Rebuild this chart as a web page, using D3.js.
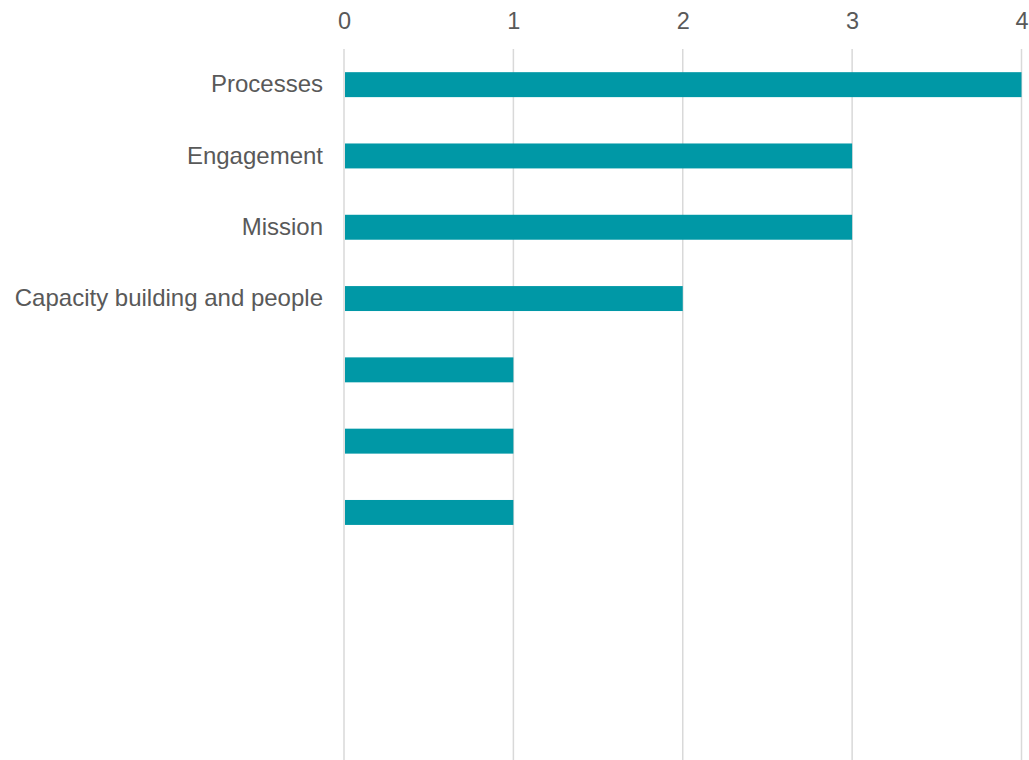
<!DOCTYPE html>
<html>
<head>
<meta charset="utf-8">
<script src="https://cdn.jsdelivr.net/npm/d3@7"></script>
<style>
  body { margin: 0; background: #fff; }
  text { font-family: "Liberation Sans", Arial, sans-serif; fill: #595959; }
</style>
</head>
<body>
<div id="chart"></div>
<script>
// rows, top to bottom (the last ones have no label in the original)
var categories = ["Processes", "Engagement", "Mission", "Capacity building and people", "", "", "", "", "", ""];
var values = [4, 3, 3, 2, 1, 1, 1, null, null, null];
var xTicks = [0, 1, 2, 3, 4];

var W = 1029, H = 760;
var margin = { top: 49, right: 7.5, bottom: -2, left: 344 };
var width = W - margin.left - margin.right;
var height = H - margin.top - margin.bottom;

var svg = d3.select("#chart")
  .append("svg")
  .attr("width", W)
  .attr("height", H)
  .append("g")
  .attr("transform", "translate(" + margin.left + "," + margin.top + ")");

var x = d3.scaleLinear().domain([0, 4]).range([0, width]);
var y = d3.scaleBand()
  .domain(d3.range(categories.length))
  .range([0, height])
  .paddingInner(0.65)
  .paddingOuter(0.325);

// vertical gridlines
svg.append("g")
  .selectAll("line")
  .data(xTicks)
  .join("line")
  .attr("x1", d => x(d))
  .attr("x2", d => x(d))
  .attr("y1", 0)
  .attr("y2", height)
  .attr("stroke", "#d9d9d9")
  .attr("stroke-width", 1.5);

// top axis labels
var xAxis = svg.append("g")
  .attr("transform", "translate(0,-20)")
  .call(d3.axisTop(x).tickValues(xTicks).tickFormat(d3.format("d")).tickSize(0).tickPadding(0));
xAxis.select(".domain").remove();
xAxis.selectAll("text")
  .attr("font-size", "23.5px")
  .attr("font-family", "'Liberation Sans', Arial, sans-serif")
  .attr("fill", "#595959");

// bars
svg.append("g")
  .selectAll("rect")
  .data(values.map((v, i) => ({ i: i, v: v })).filter(d => d.v != null))
  .join("rect")
  .attr("x", x(0) + 1)
  .attr("y", d => y(d.i))
  .attr("width", d => x(d.v) - x(0) - 1)
  .attr("height", y.bandwidth())
  .attr("fill", "#0098a6");

// category labels
var yAxis = svg.append("g")
  .attr("transform", "translate(-21,0)")
  .call(d3.axisLeft(y).tickFormat(i => categories[i]).tickSize(0).tickPadding(0));
yAxis.select(".domain").remove();
yAxis.selectAll("text")
  .attr("font-size", "24px")
  .attr("font-family", "'Liberation Sans', Arial, sans-serif")
  .attr("fill", "#595959");
</script>
</body>
</html>
